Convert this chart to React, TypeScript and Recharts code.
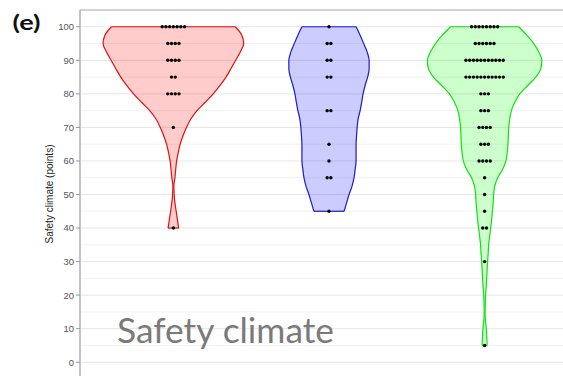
import {
  ComposedChart,
  Area,
  Scatter,
  XAxis,
  YAxis,
  CartesianGrid,
  ReferenceLine,
  ReferenceArea,
} from 'recharts';

const LEVELS = [
  100, 97.5, 95, 92.5, 90, 87.5, 85, 82.5, 80, 77.5, 75, 72.5, 70, 67.5, 65, 62.5, 60, 57.5, 55,
  52.5, 50, 47.5, 45, 42.5, 40, 37.5, 35, 32.5, 30, 27.5, 25, 22.5, 20, 17.5, 15, 12.5, 10, 7.5, 5,
];

// violin half widths (in category units), one per level, ending where the violin ends
const RED_HALF = [
  0.398, 0.44, 0.452, 0.43, 0.4, 0.37, 0.338, 0.3, 0.256, 0.205, 0.152, 0.112, 0.084, 0.062, 0.044,
  0.031, 0.021, 0.015, 0.01, 0.003, 0.005, 0.01, 0.018, 0.026, 0.034,
];
const BLUE_HALF = [
  0.174, 0.2, 0.223, 0.245, 0.258, 0.258, 0.248, 0.232, 0.219, 0.21, 0.2, 0.187, 0.181, 0.177,
  0.174, 0.174, 0.174, 0.168, 0.161, 0.148, 0.129, 0.113, 0.097,
];
const GREEN_HALF = [
  0.219, 0.271, 0.316, 0.348, 0.368, 0.361, 0.329, 0.277, 0.226, 0.194, 0.172, 0.161, 0.155, 0.152,
  0.15, 0.145, 0.137, 0.116, 0.084, 0.065, 0.058, 0.055, 0.05, 0.045, 0.039, 0.032, 0.026, 0.023,
  0.019, 0.016, 0.013, 0.01, 0.006, 0.004, 0.003, 0.005, 0.011, 0.014, 0.016,
];

// dot plot: score and how many respondents gave it
const RED_SCORES = [100, 95, 90, 85, 80, 70, 40];
const RED_COUNTS = [7, 4, 4, 2, 4, 1, 1];
const BLUE_SCORES = [100, 95, 90, 85, 75, 65, 60, 55, 45];
const BLUE_COUNTS = [1, 2, 2, 2, 2, 1, 1, 2, 1];
const GREEN_SCORES = [100, 95, 90, 85, 80, 75, 70, 65, 60, 55, 50, 45, 40, 30, 5];
const GREEN_COUNTS = [8, 6, 11, 11, 3, 3, 4, 3, 4, 1, 1, 1, 2, 1, 1];

const GROUP_POS = [1, 2, 3];
const Y_TICKS = [0, 10, 20, 30, 40, 50, 60, 70, 80, 90, 100];
const MINOR_TICKS = [5, 15, 25, 35, 45, 55, 65, 75, 85, 95];

const DOT_STEP = 0.024;

const VIOLINS = [
  { key: 'red', pos: GROUP_POS[0], half: RED_HALF, scores: RED_SCORES, counts: RED_COUNTS, color: '#ff0000', stroke: '#e01010' },
  { key: 'blue', pos: GROUP_POS[1], half: BLUE_HALF, scores: BLUE_SCORES, counts: BLUE_COUNTS, color: '#0000ff', stroke: '#1c1cc8' },
  { key: 'green', pos: GROUP_POS[2], half: GREEN_HALF, scores: GREEN_SCORES, counts: GREEN_COUNTS, color: '#00ff00', stroke: '#10e010' },
];

const violinRows = LEVELS.map((y, i) => {
  const row: any = { y };
  VIOLINS.forEach((v) => {
    const h = v.half[i];
    row[v.key] = h == null ? [null, null] : [v.pos - h, v.pos + h];
  });
  return row;
});

const dotsFor = (pos: number, scores: number[], counts: number[]) => {
  const out: { x: number; y: number }[] = [];
  scores.forEach((s, i) => {
    const n = counts[i];
    for (let j = 0; j < n; j++) out.push({ x: pos + (j - (n - 1) / 2) * DOT_STEP, y: s });
  });
  return out;
};

const DotShape = (props: any) => {
  if (props.cx == null || props.cy == null) return null;
  return <circle cx={props.cx} cy={props.cy} r={1.7} fill="#000" />;
};

const AXIS_FONT = '"Liberation Sans", Arial, sans-serif';

export default function App() {
  return (
    <div
      style={{
        position: 'fixed',
        top: 0,
        left: 0,
        width: 563,
        height: 376,
        overflow: 'hidden',
        background: '#fff',
      }}
    >
      <ComposedChart
        layout="vertical"
        width={578}
        height={409}
        data={violinRows}
        margin={{ top: 10, right: 0, bottom: 0, left: 0 }}
      >
        <CartesianGrid stroke="#f2f2f2" vertical={false} horizontalValues={MINOR_TICKS} />
        <CartesianGrid stroke="#e6e6e6" />
        <XAxis
          type="number"
          dataKey="x"
          domain={[0.4, 3.6]}
          allowDataOverflow
          ticks={GROUP_POS}
          height={30}
          axisLine={false}
          tickLine={false}
          tick={false}
        />
        <YAxis
          type="number"
          dataKey="y"
          domain={[-5, 105]}
          allowDataOverflow
          reversed
          ticks={Y_TICKS}
          interval={0}
          width={80}
          tickSize={4}
          tickMargin={2}
          axisLine={{ stroke: '#b3b3b3' }}
          tickLine={{ stroke: '#999' }}
          tick={{ fontSize: 9.5, fill: '#555', fontFamily: AXIS_FONT }}
        />
        <ReferenceArea x1={0.4} x2={3.6} y1={-5} y2={105} fill="none" stroke="#b3b3b3" strokeOpacity={1} />
        {VIOLINS.map((v) => (
          <Area
            key={v.key}
            dataKey={v.key}
            type="monotone"
            stroke={v.stroke}
            strokeWidth={1.2}
            fill={v.color}
            fillOpacity={0.2}
            dot={false}
            activeDot={false}
            isAnimationActive={false}
          />
        ))}
        {VIOLINS.map((v) => {
          const top = v.half[0];
          const last = v.half.length - 1;
          const bottom = v.half[last];
          return [
            <ReferenceLine
              key={`${v.key}-top`}
              segment={[
                { x: v.pos - top, y: LEVELS[0] },
                { x: v.pos + top, y: LEVELS[0] },
              ]}
              stroke={v.stroke}
              strokeWidth={1.2}
            />,
            <ReferenceLine
              key={`${v.key}-bottom`}
              segment={[
                { x: v.pos - bottom, y: LEVELS[last] },
                { x: v.pos + bottom, y: LEVELS[last] },
              ]}
              stroke={v.stroke}
              strokeWidth={1.2}
            />,
          ];
        })}
        {VIOLINS.map((v) => (
          <Scatter
            key={`${v.key}-dots`}
            data={dotsFor(v.pos, v.scores, v.counts)}
            shape={DotShape}
            isAnimationActive={false}
          />
        ))}
      </ComposedChart>
      <svg
        width={563}
        height={376}
        style={{ position: 'absolute', top: 0, left: 0, pointerEvents: 'none' }}
      >
        <text x={12.5} y={29.5} fontFamily="Lato, sans-serif" fontWeight={700} fontSize={20} fill="#111" textLength={28} lengthAdjust="spacingAndGlyphs">
          (e)
        </text>
        <text
          transform="translate(52.5,194) rotate(-90)"
          textAnchor="middle"
          fontFamily={AXIS_FONT}
          fontSize={10}
          fill="#222"
        >
          Safety climate (points)
        </text>
        <text
          x={117}
          y={343}
          fontFamily="Lato, sans-serif"
          fontSize={35}
          fill="#7a7a7a"
          textLength={217}
          lengthAdjust="spacingAndGlyphs"
        >
          Safety climate
        </text>
      </svg>
    </div>
  );
}
